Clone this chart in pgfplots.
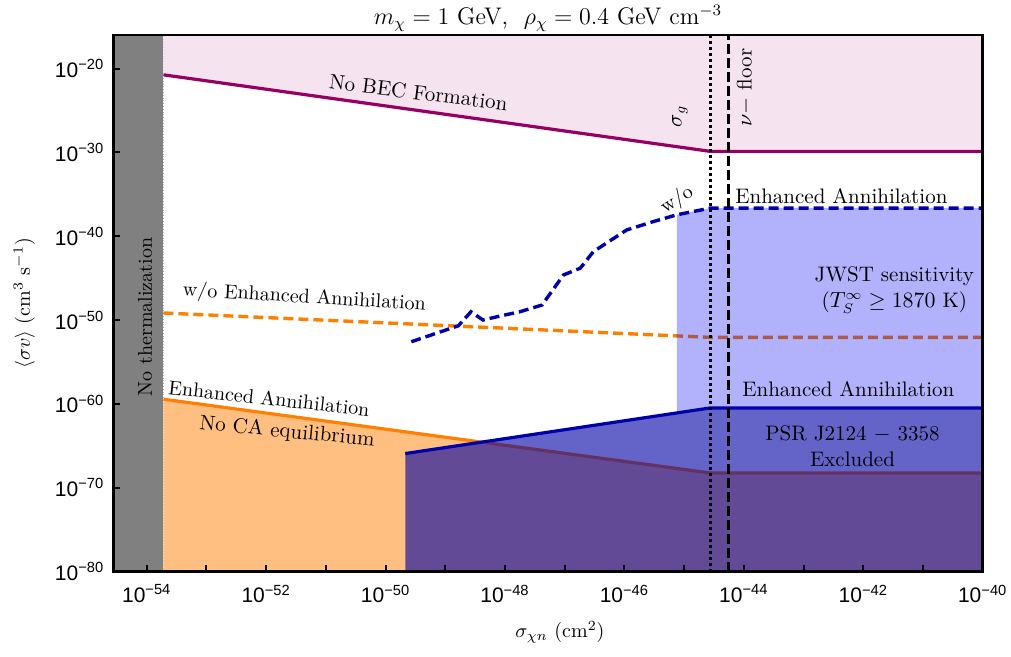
\documentclass[border=0pt]{standalone}
\usepackage{fontspec}
\usepackage{pgfplots}
\pgfplotsset{compat=1.18}
\newfontfamily\tickfont{Liberation Sans}
\definecolor{thermgray}{RGB}{128,128,128}
\definecolor{becpink}{RGB}{245,228,239}
\definecolor{becline}{RGB}{150,0,100}
\definecolor{orline}{RGB}{255,127,0}
\definecolor{orfill}{RGB}{255,191,128}
\definecolor{bline}{RGB}{0,0,170}
\definecolor{psrblue}{RGB}{0,0,165}
\definecolor{jwstblue}{RGB}{0,0,245}
\begin{document}
\begin{tikzpicture}
\begin{axis}[
  scale only axis,
  width=434.7pt, height=268.35pt,
  xmin=-54.56, xmax=-40, ymin=-80, ymax=-16,
  axis on top,
  axis line style={line width=1.3pt},
  tick align=inside, xtick pos=bottom, ytick pos=left,
  major tick length=3.5pt,
  every tick/.style={black, line width=1pt},
  xtick={-54,-53,...,-40},
  xticklabels={10\textsuperscript{−54},,10\textsuperscript{−52},,10\textsuperscript{−50},,10\textsuperscript{−48},,10\textsuperscript{−46},,10\textsuperscript{−44},,10\textsuperscript{−42},,10\textsuperscript{−40}},
  ytick={-80,-70,...,-20},
  yticklabels={10\textsuperscript{−80},10\textsuperscript{−70},10\textsuperscript{−60},10\textsuperscript{−50},10\textsuperscript{−40},10\textsuperscript{−30},10\textsuperscript{−20}},
  tick label style={font=\fontsize{10.5}{12}\tickfont},
  xticklabel style={yshift=-3pt},
  yticklabel style={xshift=-1pt},
  xlabel={$\sigma_{\chi n}$ (cm$^2$)},
  ylabel={$\langle\sigma v\rangle$ (cm$^3$ s$^{-1}$)},
  label style={font=\fontsize{12}{14}\selectfont},
  every axis x label/.style={at={(axis description cs:0.5138,-0.1124)},anchor=center},
  every axis y label/.style={at={(axis description cs:-0.1024,0.5)},rotate=90,anchor=center},
  clip=true,
]
% No thermalization band
\addplot[fill=thermgray, draw=none] coordinates {(-54.6,-80) (-53.72,-80) (-53.72,-16) (-54.6,-16)} -- cycle;
\addplot[color={rgb,255:red,175;green,175;blue,175}, line width=0.4pt, densely dotted] coordinates {(-53.72,-80) (-53.72,-16)};
% BEC region
\addplot[fill=becpink, draw=none] coordinates {(-53.72,-16) (-53.72,-20.75) (-44.56,-29.88) (-40,-29.88) (-40,-16)} -- cycle;
\addplot[becline, line width=1.6pt] coordinates {(-53.72,-20.75) (-44.56,-29.88) (-40,-29.88)};
% CA equilibrium region
\addplot[fill=orfill, draw=none] coordinates {(-53.72,-80) (-53.72,-59.43) (-44.56,-68.23) (-40,-68.23) (-40,-80)} -- cycle;
\addplot[orline, line width=1.6pt] coordinates {(-53.72,-59.43) (-44.56,-68.23) (-40,-68.23)};
% w/o enhanced annihilation (orange dashed)
\addplot[orline, line width=1.7pt, dash pattern=on 5pt off 2.5pt] coordinates {(-53.72,-49.15) (-44.56,-52.06) (-40,-52.06)};
% JWST sensitivity region
\addplot[fill=jwstblue, fill opacity=0.3, draw=none] coordinates {(-45.12,-61.07) (-45.12,-37.44) (-44.56,-36.64) (-40,-36.64) (-40,-60.47) (-44.56,-60.47)} -- cycle;
% PSR excluded region
\addplot[fill=psrblue, fill opacity=0.61, draw=none] coordinates {(-49.67,-80) (-49.67,-65.91) (-44.56,-60.47) (-40,-60.47) (-40,-80)} -- cycle;
\addplot[bline, line width=1.6pt] coordinates {(-49.67,-65.91) (-44.56,-60.47) (-40,-60.47)};
% JWST w/o enhanced annihilation (blue dashed)
\addplot[bline, line width=1.7pt, dash pattern=on 5pt off 2.5pt] coordinates {
(-49.57,-52.58) (-48.78,-50.67) (-48.57,-49.0) (-48.37,-49.99) (-48.08,-49.51)
(-47.75,-49.0) (-47.38,-48.20) (-47.02,-44.61) (-46.74,-43.81) (-46.52,-41.83)
(-45.96,-39.24) (-45.51,-38.24) (-45.12,-37.44) (-44.56,-36.64) (-40,-36.64)};
% vertical lines
\addplot[black, line width=1.5pt, dash pattern=on 1.5pt off 1.5pt] coordinates {(-44.56,-80) (-44.56,-16)};
\addplot[black, line width=1.5pt, dash pattern=on 5pt off 2pt] coordinates {(-44.25,-80) (-44.25,-16)};
% labels
\node[rotate=90, text=black, font=\fontsize{10}{12}\selectfont] at (-54.03,-49.63) {No thermalization};
\node[rotate=-7, font=\fontsize{10.5}{12}\selectfont] at (-49.45,-22.87) {No BEC Formation};
\node[rotate=90, font=\fontsize{10.5}{12}\selectfont] at (-45.07,-25.73) {$\sigma_g$};
\node[rotate=90, font=\fontsize{10.5}{12}\selectfont] at (-43.98,-22.27) {$\nu-$ floor};
\node[rotate=32, font=\fontsize{10}{12}\selectfont] at (-45.12,-35.65) {w/o};
\node[anchor=west, font=\fontsize{10.5}{12}\selectfont, inner sep=0pt] at (-44.15,-35.17) {Enhanced Annihilation};
\node[align=center, font=\fontsize{10.5}{13}\selectfont] at (-41.48,-46.40) {JWST sensitivity\\($T_S^\infty \geq 1870$ K)};
\node[rotate=-3.5, font=\fontsize{10}{12}\selectfont] at (-51.36,-47.36) {w/o Enhanced Annihilation};
\node[font=\fontsize{10.5}{12}\selectfont] at (-42.25,-58.23) {Enhanced Annihilation};
\node[align=center, font=\fontsize{10.5}{13}\selectfont] at (-42.18,-65.04) {PSR J2124 $-$ 3358\\Excluded};
\node[rotate=-6.3, font=\fontsize{10}{12}\selectfont] at (-51.95,-59.31) {Enhanced Annihilation};
\node[rotate=-5.5, font=\fontsize{10.5}{12}\selectfont] at (-51.65,-63.37) {No CA equilibrium};
\end{axis}
\node[anchor=base, font=\fontsize{12}{14}\selectfont] at ([yshift=5.2pt]current axis.north) {$m_\chi = 1$ GeV,\ \ $\rho_\chi = 0.4$ GeV cm$^{-3}$};
\pgfresetboundingbox
\path ([shift={(-56.65pt,-42.65pt)}]current axis.south west) rectangle ([shift={(14.15pt,17.5pt)}]current axis.north east);
\end{tikzpicture}
\end{document}
